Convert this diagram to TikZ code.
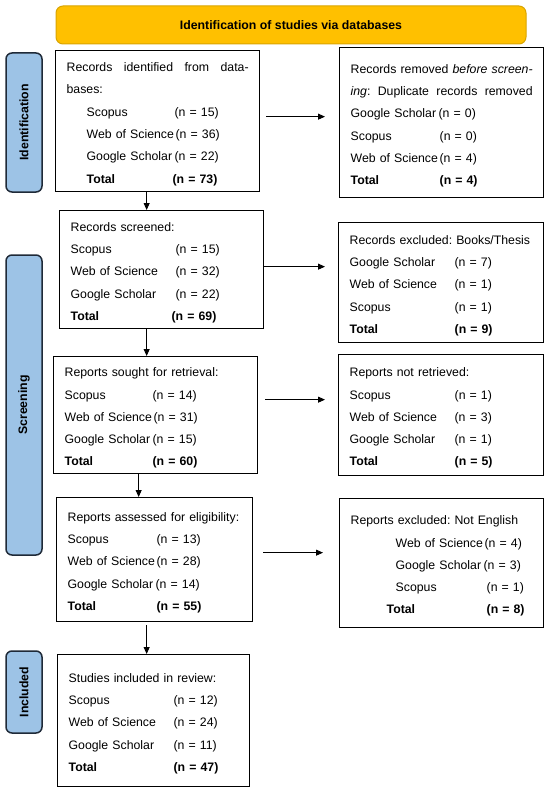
\documentclass[tikz,border=0pt]{standalone}
\usepackage{fontspec}
\setmainfont{Liberation Sans}
\usetikzlibrary{arrows.meta, positioning, calc}

\definecolor{bannerfill}{HTML}{FFC000}
\definecolor{bannerline}{HTML}{D9A400}
\definecolor{phasefill}{HTML}{9DC3E6}
\definecolor{phaseline}{HTML}{1F2A38}

\newcommand{\cnt}[2]{\makebox[#1][l]{#2}}
\newcommand{\tstrut}{\rule{0pt}{15pt}}
\newcommand{\spread}[1]{\leavevmode\hbox to 182pt{#1}}
\frenchspacing

\begin{document}
\begin{tikzpicture}[%
    x=1pt, y=1pt,
    >={Triangle[length=7pt,width=6pt]}, % filled heads
    ]

\tikzset{
  box/.style={draw, line width=1.3pt, anchor=north west, align=left, inner xsep=11pt, inner ysep=0pt,
    font=\frenchspacing\fontsize{12.3}{22.3}\selectfont},
  phase/.style={draw=phaseline, fill=phasefill, line width=1.5pt, rounded corners=6pt, rotate=90,
    minimum height=36pt, inner sep=0pt, font=\bfseries\fontsize{12.3}{14}\selectfont},
  flow/.style={->, line width=0.9pt}
  };

\useasboundingbox (0,0) rectangle (550,-792);

% Header
\node[draw=bannerline, fill=bannerfill, line width=1pt, rounded corners=7pt, minimum width=470pt,
  minimum height=38pt, font=\bfseries\fontsize{12.3}{14}\selectfont] (head) at (291,-25)
  { Identification of studies via databases };

% Phases
\node[phase, minimum width=139pt] (ident) at (24,-122.5) { Identification };
\node[phase, minimum width=300pt] (screen) at (24,-405) { Screening };
\node[phase, minimum width=82pt] (incl) at (24,-692) { Included };

% Left column
\node[box, text width=182pt, minimum height=141pt] (idrec) at (55,-50)
  { \tstrut\spread{Records\hfill identified\hfill from\hfill data-}\\
    bases:\\
    \hspace*{20pt}\cnt{88pt}{Scopus}(n = 15)\\
    \hspace*{20pt}\cnt{89pt}{Web of Science}(n = 36)\\
    \hspace*{20pt}\cnt{88pt}{Google Scholar}(n = 22)\\
    \hspace*{20pt}\textbf{\cnt{86pt}{Total}(n = 73)} };

\node[box, text width=182pt, minimum height=118pt] (screened) at (59,-210)
  { \tstrut Records screened:\\
    \cnt{105pt}{Scopus}(n = 15)\\
    \cnt{105pt}{Web of Science}(n = 32)\\
    \cnt{105pt}{Google Scholar}(n = 22)\\
    \textbf{\cnt{101pt}{Total}(n = 69)} };

\node[box, text width=182pt, minimum height=117pt] (sought) at (53,-356)
  { \tstrut Reports sought for retrieval:\\
    \cnt{88pt}{Scopus}(n = 14)\\
    \cnt{89pt}{Web of Science}(n = 31)\\
    \cnt{88pt}{Google Scholar}(n = 15)\\
    \textbf{\cnt{88pt}{Total}(n = 60)} };

\node[box, text width=174pt, minimum height=124pt] (assessed) at (56,-497)
  { \tstrut Reports assessed for eligibility:\\
    \cnt{89pt}{Scopus}(n = 13)\\
    \cnt{89pt}{Web of Science}(n = 28)\\
    \cnt{88pt}{Google Scholar}(n = 14)\\
    \textbf{\cnt{89pt}{Total}(n = 55)} };

\node[box, text width=170pt, minimum height=132pt] (included) at (57,-654)
  { \tstrut Studies included in review:\\
    \cnt{105pt}{Scopus}(n = 12)\\
    \cnt{105pt}{Web of Science}(n = 24)\\
    \cnt{105pt}{Google Scholar}(n = 11)\\
    \textbf{\cnt{105pt}{Total}(n = 47)} };

% Right column
\node[box, text width=182pt, minimum height=150pt] (removed) at (339,-47)
  { \tstrut\spread{Records\hfill removed\hfill \emph{before\hfill screen-}}\\
    \spread{\emph{ing}:\hfill Duplicate\hfill records\hfill removed}\\
    \cnt{88pt}{Google Scholar}(n = 0)\\
    \cnt{89pt}{Scopus}(n = 0)\\
    \cnt{89pt}{Web of Science}(n = 4)\\
    \textbf{\cnt{89pt}{Total}(n = 4)} };

\node[box, text width=183pt, minimum height=120pt] (excluded) at (338,-222)
  { \tstrut Records excluded: Books/Thesis\\
    \cnt{105pt}{Google Scholar}(n = 7)\\
    \cnt{105pt}{Web of Science}(n = 1)\\
    \cnt{105pt}{Scopus}(n = 1)\\
    \textbf{\cnt{105pt}{Total}(n = 9)} };

\node[box, text width=183pt, minimum height=121pt] (notretr) at (338,-354)
  { \tstrut Reports not retrieved:\\
    \cnt{105pt}{Scopus}(n = 1)\\
    \cnt{105pt}{Web of Science}(n = 3)\\
    \cnt{105pt}{Google Scholar}(n = 1)\\
    \textbf{\cnt{105pt}{Total}(n = 5)} };

\node[box, text width=182pt, minimum height=129pt] (english) at (339,-498)
  { \tstrut Reports excluded: Not English\\
    \hspace*{45pt}\cnt{89pt}{Web of Science}(n = 4)\\
    \hspace*{45pt}\cnt{88pt}{Google Scholar}(n = 3)\\
    \hspace*{45pt}\cnt{91pt}{Scopus}(n = 1)\\
    \hspace*{36pt}\textbf{\cnt{100pt}{Total}(n = 8)} };

% Flow down
\draw[flow] ([xshift=-11pt]idrec.south) -- ([xshift=-11pt]idrec.south |- screened.north);
\draw[flow] ([xshift=-15pt]screened.south) -- ([xshift=-15pt]screened.south |- sought.north);
\draw[flow] ([xshift=-17pt]sought.south) -- ([xshift=-17pt]sought.south |- assessed.north);
\draw[flow, shorten <=3pt] ([xshift=-8pt]assessed.south) -- ([xshift=-8pt]assessed.south |- included.north);

% Flow across
\draw[flow, shorten <=6pt, shorten >=14pt] ([yshift=4.5pt]idrec.east) -- ([yshift=4.5pt]idrec.east -| removed.west);
\draw[flow, shorten >=13pt] ([yshift=3pt]screened.east) -- ([yshift=3pt]screened.east -| excluded.west);
\draw[flow, shorten <=7pt, shorten >=13pt] ([yshift=15.5pt]sought.east) -- ([yshift=15.5pt]sought.east -| notretr.west);
\draw[flow, shorten <=10pt, shorten >=16pt] ([yshift=7pt]assessed.east) -- ([yshift=7pt]assessed.east -| english.west);

\end{tikzpicture}
\end{document}
